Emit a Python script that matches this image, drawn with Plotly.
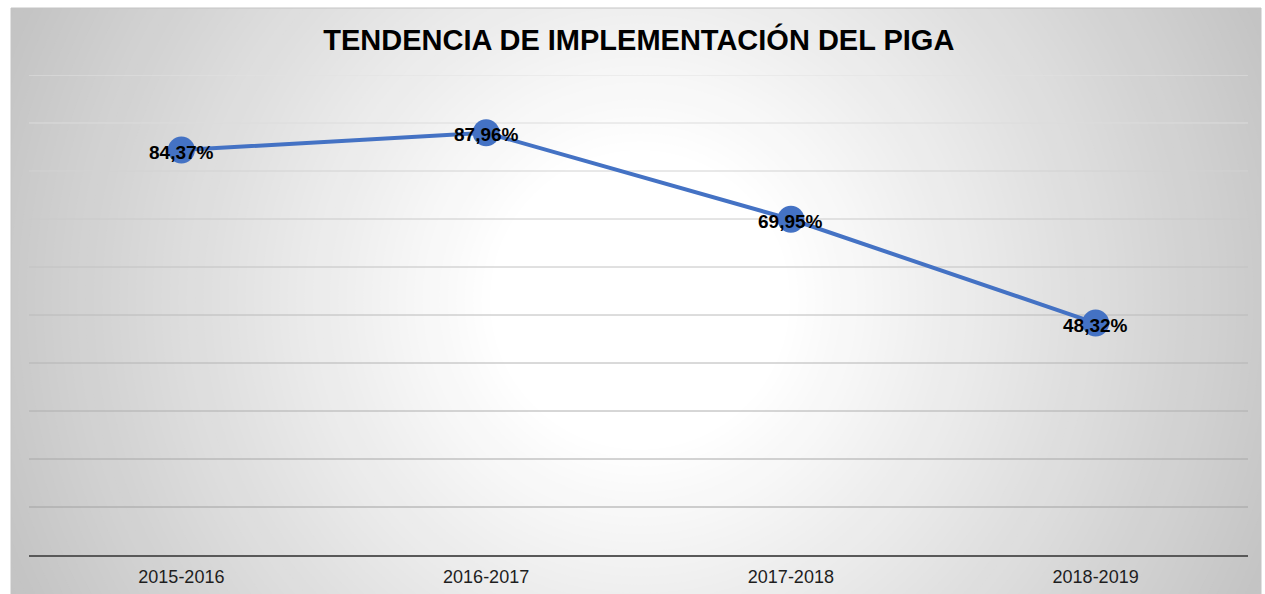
import plotly.graph_objects as go

# ---- data ----
categories = ["2015-2016", "2016-2017", "2017-2018", "2018-2019"]
values = [84.37, 87.96, 69.95, 48.32]
labels = ["84,37%", "87,96%", "69,95%", "48,32%"]
grid_values = [10, 20, 30, 40, 50, 60, 70, 80, 90, 100]
grid_colors = ["#a2a2a2", "#a8a8a8", "#aeaeae", "#b4b4b4", "#bababa",
               "#c2c2c2", "#cacaca", "#d2d2d2", "#dcdcdc", "#e2e2e2"]
title_text = "TENDENCIA DE IMPLEMENTACIÓN DEL PIGA"

W, H = 1265, 594
L, R, T, B = 29, 17, 75, 39
PW, PH = W - L - R, H - T - B


def px(xa, ya):
    return (xa - L) / PW, (H - B - ya) / PH


FONT = "Liberation Sans, Arial, sans-serif"

shapes = []
# radial gradient background made from concentric circles
cx, cy = 640, 300
r_in, r_out = 150, 740
steps = 70
for i in range(steps + 1):
    r = r_out - (r_out - r_in) * i / steps
    t = (r - r_in) / (r_out - r_in)
    c = int(round(255 - t * (255 - 190)))
    x0, y0 = px(cx - r, cy + r)
    x1, y1 = px(cx + r, cy - r)
    shapes.append(dict(type="circle", xref="paper", yref="paper",
                       x0=x0, x1=x1, y0=y0, y1=y1, layer="below",
                       fillcolor=f"rgb({c},{c},{c})", line=dict(width=0)))

# white page outside the chart box
box = (11, 8, 1261, 600)
for (a, b, c_, d) in [(-50, -50, box[0], H + 50), (-50, -50, W + 50, box[1]),
                      (box[2], -50, W + 50, H + 50)]:
    x0, y0 = px(a, d)
    x1, y1 = px(c_, b)
    shapes.append(dict(type="rect", xref="paper", yref="paper",
                       x0=x0, x1=x1, y0=y0, y1=y1, layer="below",
                       fillcolor="white", line=dict(width=0)))
bx0, by0 = px(box[0], box[3])
bx1, by1 = px(box[2], box[1])
shapes.append(dict(type="rect", xref="paper", yref="paper",
                   x0=bx0, x1=bx1, y0=by0, y1=by1, layer="below",
                   fillcolor="rgba(0,0,0,0)", line=dict(color="#c4c4c4", width=1)))

# gridlines
for gv, gc in zip(grid_values, grid_colors):
    shapes.append(dict(type="line", xref="paper", yref="y", x0=0, x1=1,
                       y0=gv, y1=gv, layer="below",
                       line=dict(color=gc, width=1)))

fig = go.Figure()
fig.add_trace(go.Scatter(
    x=categories, y=values, mode="lines+markers",
    line=dict(color="#4472C4", width=4),
    marker=dict(size=27, color="#4472C4"),
    hoverinfo="skip", cliponaxis=False,
))

annotations = []
for cat, v, lab in zip(categories, values, labels):
    annotations.append(dict(x=cat, y=v, xref="x", yref="y", text=lab,
                            showarrow=False, xanchor="center", yanchor="middle",
                            yshift=-2,
                            font=dict(family=FONT, size=19, color="black",
                                      weight="bold")))

fig.update_layout(
    width=W, height=H,
    margin=dict(l=L, r=R, t=T, b=B, autoexpand=False),
    paper_bgcolor="white",
    plot_bgcolor="rgba(0,0,0,0)",
    showlegend=False,
    shapes=shapes,
    annotations=annotations,
    title=dict(text=title_text, x=0.505, xref="container", xanchor="center",
               y=1 - 40 / H, yref="container", yanchor="middle",
               font=dict(family=FONT, size=29, color="black", weight="bold")),
    xaxis=dict(range=[-0.5, 3.5], showgrid=False, zeroline=False,
               showline=True, linecolor="#595959", linewidth=2,
               ticks="", ticklabelstandoff=4, automargin=False,
               tickfont=dict(family=FONT, size=18, color="#1e1e1e"),
               fixedrange=True),
    yaxis=dict(range=[0, 100], showgrid=False, zeroline=False,
               showticklabels=False, showline=False, fixedrange=True,
               automargin=False),
)

fig.write_html("out.html")
